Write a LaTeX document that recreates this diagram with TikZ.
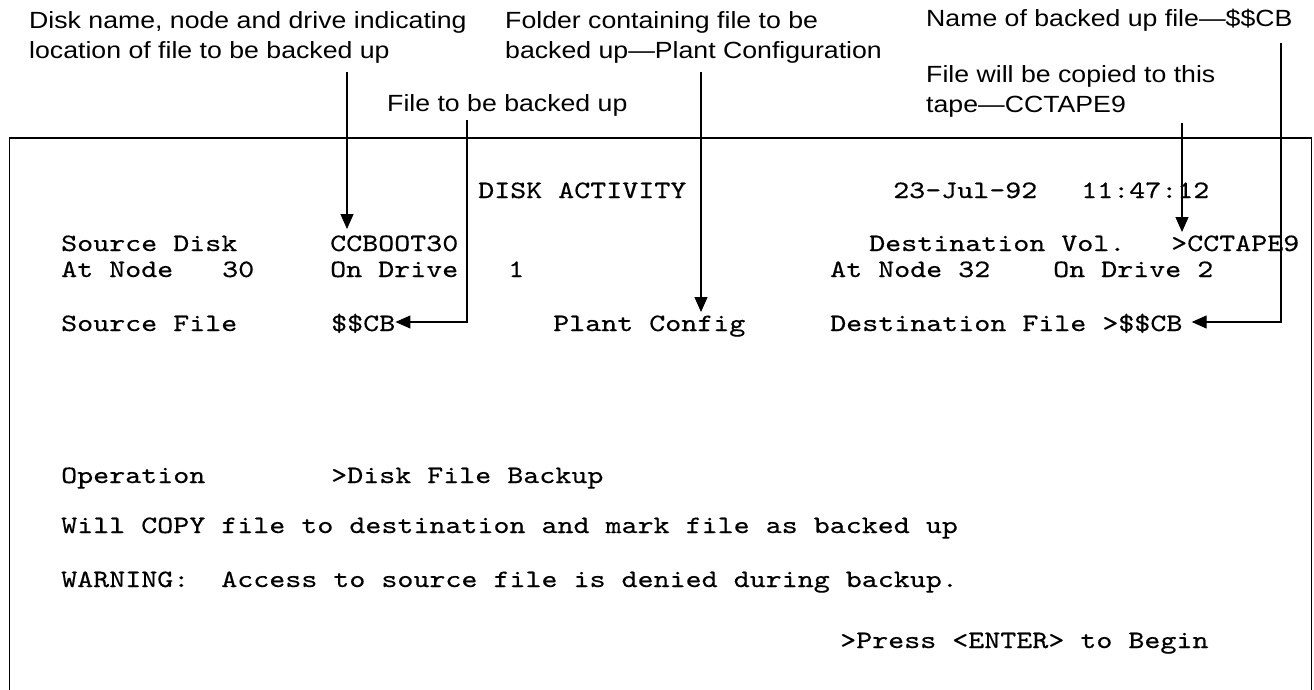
\documentclass[tikz,border=0pt]{standalone}
\usepackage{fontspec}
\usetikzlibrary{arrows.meta,calc}
\newfontfamily\lblfont[FakeStretch=1.14]{Liberation Sans}
\newfontfamily\scrfont[Extension=.otf,FakeStretch=1.22,FakeBold=0.35]{lmmono10-regular}
\tikzset{
  lbl/.style={anchor=base west, inner sep=0pt, font=\lblfont\fontsize{23.4}{30}\selectfont},
  scr/.style={anchor=base west, inner sep=0pt, font=\scrfont\fontsize{25}{30}\selectfont},
  arr/.style={line width=1.2pt, -{Triangle[length=15pt,width=13pt]}},
  screenframe/.style={line width=1.3pt}
}
\begin{document}
\begin{tikzpicture}[x=1pt,y=-1pt]
\path[fill=white,use as bounding box] (0,0) rectangle (1314,690);

% screen frame (open at bottom)
\draw[screenframe] (9.5,690) -- (9.5,138) -- (1311.5,138) -- (1311.5,690);

% annotation labels
\node[lbl] (l1) at (29,29) {\begin{tabular}[t]{@{}l@{}}Disk name, node and drive indicating\\location of file to be backed up\end{tabular}};
\node[lbl] (l2) at (505,29) {\begin{tabular}[t]{@{}l@{}}Folder containing file to be\\backed up—Plant Configuration\end{tabular}};
\node[lbl] (l3) at (387,112) {File to be backed up};
\node[lbl] (l4) at (926,83) {\begin{tabular}[t]{@{}l@{}}File will be copied to this\\tape—CCTAPE9\end{tabular}};
\node[lbl] (l5) at (926,27) {Name of backed up file—\$\$CB};

% screen text
\node[scr] (title) at (478,198) {DISK ACTIVITY};
\node[scr] (date)  at (893,198) {23-Jul-92};
\node[scr] (time)  at (1081,198) {11:47:12};

\node[scr] (sdisk) at (61,251) {Source Disk};
\node[scr] (ccb)   at (330,251) {CCBOOT30};
\node[scr] (dvol)  at (869,251) {Destination Vol.};
\node[scr] (tape)  at (1171,251) {>CCTAPE9};

\node[scr] (an1)   at (61,277) {At Node};
\node[scr] (n30)   at (222,277) {30};
\node[scr] (od1)   at (330,277) {On Drive};
\node[scr] (d1)    at (508,277) {1};
\node[scr] (an2)   at (830,277) {At Node 32};
\node[scr] (od2)   at (1053,277) {On Drive 2};

\node[scr] (sfile) at (61,331) {Source File};
\node[scr] (sfv)   at (331,331) {\$\$CB};
\node[scr] (pc)    at (553,331) {Plant Config};
\node[scr] (df)    at (830,331) {Destination File >\$\$CB};

\node[scr] (op)    at (61,483) {Operation};
\node[scr] (opv)   at (331,483) {>Disk File Backup};
\node[scr] (will)  at (61,533) {Will COPY file to destination and mark file as backed up};
\node[scr] (warn)  at (61,587) {WARNING:\ \ Access to source file is denied during backup.};
\node[scr] (press) at (840,648) {>Press <ENTER> to Begin};

% connector start points
\coordinate (a1s) at (347,72);
\coordinate (a2s) at (467,120);
\coordinate (a3s) at (701,72);
\coordinate (a4s) at (1182,123);
\coordinate (a5s) at (1281,43);

% connectors
\draw[arr] (a1s) -- ($(a1s |- ccb.base)+(0,-22)$);
\draw[arr] (a2s) |- ($(sfv.base east)+(0,-9)$);
\draw[arr] (a3s) -- ($(a3s |- pc.base)+(0,-19)$);
\draw[arr] (a4s) -- ($(a4s |- tape.base)+(0,-19)$);
\draw[arr] (a5s) |- ($(df.base east)+(9,-9)$);
\end{tikzpicture}
\end{document}
